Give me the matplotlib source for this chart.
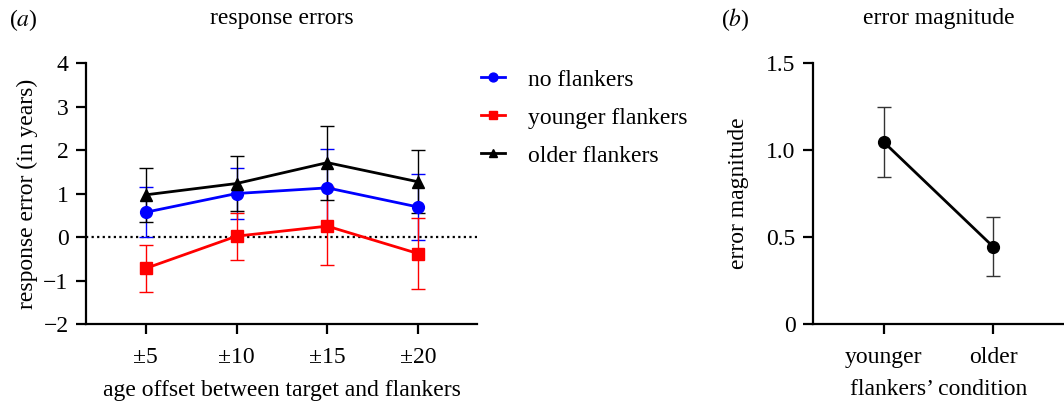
import matplotlib
matplotlib.use("Agg")
import matplotlib.pyplot as plt
import numpy as np

plt.rcParams['font.family'] = ['Liberation Serif', 'DejaVu Serif']
plt.rcParams['mathtext.fontset'] = 'stix'

# Panel (a) data
offsets = ["±5", "±10", "±15", "±20"]
no_flankers = [0.57, 1.00, 1.13, 0.69]
no_flankers_err = [0.57, 0.58, 0.90, 0.77]
younger_flankers = [-0.72, 0.02, 0.25, -0.38]
younger_flankers_err = [0.54, 0.54, 0.89, 0.82]
older_flankers = [0.97, 1.23, 1.71, 1.27]
older_flankers_err = [0.62, 0.63, 0.85, 0.72]

# Panel (b) data
conditions = ["younger", "older"]
magnitude = [1.045, 0.445]
magnitude_err = [0.20, 0.17]

FS = 17

fig = plt.figure(figsize=(10.64, 4.04), dpi=100)
ax1 = fig.add_axes([0.0808, 0.198, 0.3675, 0.646])
ax2 = fig.add_axes([0.764, 0.198, 0.236, 0.646])

x = np.arange(1, len(offsets) + 1)
ax1.axhline(0, color='black', linestyle=(0, (1, 1.5)), linewidth=1.6, zorder=1)

series = [
    ("no flankers", no_flankers, no_flankers_err, '#0000ff', 'o', 8.5),
    ("younger flankers", younger_flankers, younger_flankers_err, '#ff0000', 's', 8),
    ("older flankers", older_flankers, older_flankers_err, 'black', '^', 8),
]
handles = []
for label, y, e, c, m, ms in series:
    ax1.errorbar(x, y, yerr=e, color=c, ecolor=c, elinewidth=1.0, capsize=5,
                 capthick=1.0, linewidth=2, zorder=2, fmt='none')
    h, = ax1.plot(x, y, color=c, marker=m, markersize=ms, linewidth=2, label=label, zorder=3)
    handles.append(h)

ax1.set_xlim(0.34, 4.65)
ax1.set_ylim(-2, 4)
ax1.set_yticks([-2, -1, 0, 1, 2, 3, 4])
ax1.set_yticklabels(["\u22122", "\u22121", "0", "1", "2", "3", "4"])
ax1.set_xticks(x)
ax1.set_xticklabels(offsets)
ax1.set_xlabel("age offset between target and flankers", fontsize=FS, labelpad=9)
ax1.set_ylabel("response error (in years)", fontsize=FS, labelpad=4)
ax1.set_title("response errors", fontsize=FS, pad=28)

fig.legend(handles=handles, loc='upper left', bbox_to_anchor=(0.452, 0.829),
           frameon=False, fontsize=FS, handlelength=1.0, handletextpad=1.0,
           labelspacing=0.7, markerscale=0.75, borderpad=0, borderaxespad=0)

xb = np.arange(1, len(conditions) + 1)
ax2.errorbar(xb, magnitude, yerr=magnitude_err, color='black', ecolor='#333333',
             elinewidth=1.0, capsize=5, capthick=1.0, fmt='none', zorder=2)
ax2.plot(xb, magnitude, color='black', marker='o', markersize=8.5, linewidth=2, zorder=3)
ax2.set_xlim(0.35, 2.65)
ax2.set_ylim(0, 1.5)
ax2.set_yticks([0, 0.5, 1.0, 1.5])
ax2.set_yticklabels(["0", "0.5", "1.0", "1.5"])
ax2.set_xticks(xb)
ax2.set_xticklabels(conditions)
ax2.set_xlabel("flankers\u2019 condition", fontsize=FS, labelpad=8)
ax2.set_ylabel("error magnitude", fontsize=FS, labelpad=12)
ax2.set_title("error magnitude", fontsize=FS, pad=28)

for ax in (ax1, ax2):
    for s in ('top', 'right'):
        ax.spines[s].set_visible(False)
    for s in ('left', 'bottom'):
        ax.spines[s].set_linewidth(1.6)
    ax.tick_params(axis='both', labelsize=FS, width=1.6, length=7.5, direction='out', pad=5)
    ax.tick_params(axis='x', pad=9)

fig.text(0.008, 0.935, "($a$)", fontsize=FS, va='baseline')
fig.text(0.678, 0.935, "($b$)", fontsize=FS, va='baseline')

fig.savefig("out.png", dpi=100)
